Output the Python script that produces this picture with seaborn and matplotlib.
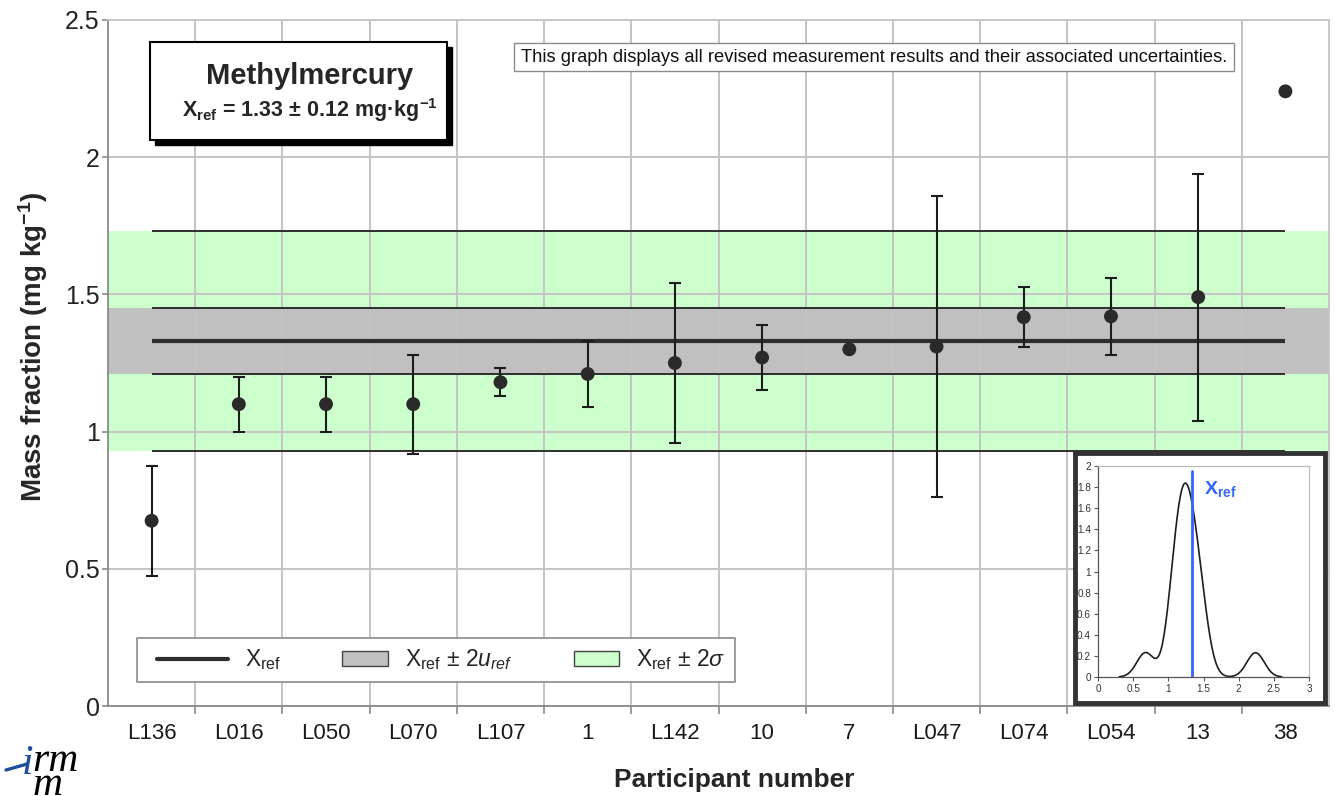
import numpy as np
import pandas as pd
import matplotlib
matplotlib.use("Agg")
import matplotlib.pyplot as plt
import seaborn as sns
from matplotlib.patches import Rectangle, Patch
from matplotlib.lines import Line2D
from matplotlib.legend_handler import HandlerPatch, HandlerBase
from matplotlib.ticker import FormatStrFormatter

# ---- data -------------------------------------------------------------
participants = ["L136", "L016", "L050", "L070", "L107", "1", "L142",
                "10", "7", "L047", "L074", "L054", "13", "38"]
mass_fraction = [0.675, 1.10, 1.10, 1.10, 1.18, 1.21, 1.25,
                 1.27, 1.30, 1.31, 1.417, 1.42, 1.49, 2.24]
uncertainty = [0.20, 0.10, 0.10, 0.18, 0.05, 0.12, 0.29,
               0.12, 0.0, 0.55, 0.11, 0.14, 0.45, 0.0]
x_ref = 1.33
two_u_ref = 0.12
two_sigma = 0.40
y_ticks = [0, 0.5, 1, 1.5, 2, 2.5]
kde_x_ticks = [0, 0.5, 1, 1.5, 2, 2.5, 3]
kde_y_ticks = [0, 0.2, 0.4, 0.6, 0.8, 1, 1.2, 1.4, 1.6, 1.8, 2]

df = pd.DataFrame({"participant": participants,
                   "mass_fraction": mass_fraction,
                   "uncertainty": uncertainty})

# ---- style ------------------------------------------------------------
sns.set_theme(style="white")
plt.rcParams["font.family"] = ["Liberation Sans", "DejaVu Sans"]
plt.rcParams["mathtext.fontset"] = "custom"
plt.rcParams["mathtext.rm"] = "Liberation Sans"
plt.rcParams["mathtext.it"] = "Liberation Sans:italic"
plt.rcParams["mathtext.bf"] = "Liberation Sans:bold"

W, H = 1335, 796
fig = plt.figure(figsize=(W / 100, H / 100), dpi=100)


def fx(px):
    return px / W


def fy(py):
    return 1 - py / H


ax = fig.add_axes([fx(108), fy(706), (1329 - 108) / W, (706 - 20) / H])
n = len(participants)

GRID = "#c4c4c4"
DARK = "#2e2e2e"
GREEN = "#ccffcc"
GREY = "#c0c0c0"

# reference bands
ax.axhspan(x_ref - two_sigma, x_ref + two_sigma, color=GREEN, lw=0, zorder=0.2)
ax.axhspan(x_ref - two_u_ref, x_ref + two_u_ref, color=GREY, lw=0, zorder=0.3)
ax.hlines([x_ref - two_sigma, x_ref - two_u_ref, x_ref + two_u_ref, x_ref + two_sigma],
          0, n - 1, color=DARK, lw=1.4, zorder=2)
ax.hlines(x_ref, 0, n - 1, color=DARK, lw=3, zorder=2.1)

# results with uncertainties
sns.scatterplot(data=df, x="participant", y="mass_fraction", ax=ax,
                color="#2a2a2a", s=100, edgecolor="none", zorder=5, legend=False)
has_err = df["uncertainty"] > 0
ax.errorbar(np.flatnonzero(has_err), df.loc[has_err, "mass_fraction"],
            yerr=df.loc[has_err, "uncertainty"], fmt="none", ecolor="#1c1c1c",
            elinewidth=1.5, capsize=4.5, capthick=1.5, zorder=4)

ax.set_xlim(-0.5, n - 0.5)
ax.set_ylim(0, 2.5)
ax.set_yticks(y_ticks)
ax.set_yticklabels([f"{t:g}" for t in y_ticks])
ax.set_xticks(np.arange(n - 1) + 0.5, minor=True)
ax.set_axisbelow(True)
ax.yaxis.grid(True, color=GRID, lw=1.4)
ax.xaxis.grid(True, which="minor", color=GRID, lw=1.4)
ax.xaxis.grid(False, which="major")
ax.tick_params(axis="x", which="major", length=0, labelsize=16, pad=12,
               labelcolor="#1a1a1a")
ax.tick_params(axis="x", which="minor", length=6, width=1.2, color="#8a8a8a",
               direction="out", bottom=True)
ax.tick_params(axis="y", length=4, width=1.2, color="#8a8a8a", direction="out",
               left=True, labelsize=18, labelcolor="#222222", pad=2)
for side in ["left", "bottom", "right", "top"]:
    ax.spines[side].set_color("#8a8a8a")
    ax.spines[side].set_linewidth(1.3)
ax.spines["top"].set_color(GRID)
ax.spines["right"].set_color(GRID)

ax.set_xlabel("Participant number", fontsize=19, fontweight="bold", va="center")
ax.xaxis.set_label_coords((734 - 108) / 1221, (706 - 780) / 686)
ax.set_ylabel(r"Mass fraction (mg kg$^{\mathbf{-1}}$)", fontsize=20,
              fontweight="bold", va="center")
ax.yaxis.set_label_coords((33 - 108) / 1221, (706 - 347) / 686)


# legend: line sample slightly inset, boxes narrower and right-aligned in the slot
class _InsetLine(HandlerBase):
    def create_artists(self, legend, orig_handle, xdescent, ydescent, width, height,
                       fontsize, trans):
        y = height / 2 - ydescent
        line = Line2D([-xdescent + width * 0.125, -xdescent + width], [y, y],
                      color=orig_handle.get_color(), lw=orig_handle.get_linewidth(),
                      transform=trans)
        return [line]


def _narrow_box(legend, orig_handle, xdescent, ydescent, width, height, fontsize):
    w = width * 0.56
    h = height * 0.8
    return Rectangle((width - w - xdescent, -ydescent + (height - h) / 2), w, h)


handles = [Line2D([], [], color=DARK, lw=3),
           Patch(facecolor=GREY, edgecolor="#444444", lw=1),
           Patch(facecolor=GREEN, edgecolor="#444444", lw=1)]
labels = [r"X$_{\rm ref}$", r"X$_{\rm ref}$ ± 2$u_{ref}$", r"X$_{\rm ref}$ ± 2$\sigma$"]
leg = ax.legend(handles, labels, ncol=3, loc="lower left",
                bbox_to_anchor=((137 - 108) / 1221, (706 - 682) / 686),
                fontsize=16.5, frameon=True, fancybox=False, framealpha=1,
                edgecolor="#8a8a8a", handlelength=3.55, handleheight=0.8,
                handletextpad=0.75, columnspacing=1.1, borderpad=0.42,
                borderaxespad=0,
                handler_map={Line2D: _InsetLine(),
                             Patch: HandlerPatch(patch_func=_narrow_box)})
leg.get_frame().set_linewidth(1.2)
leg.set_zorder(6)

# title box with drop shadow
bx0, by0, bx1, by1 = 150, 42, 447, 140
fig.patches.append(Rectangle((fx(bx0 + 5), fy(by1 + 5)), (bx1 - bx0) / W, (by1 - by0) / H,
                             transform=fig.transFigure, facecolor="black",
                             edgecolor="black", zorder=1))
fig.patches.append(Rectangle((fx(bx0), fy(by1)), (bx1 - bx0) / W, (by1 - by0) / H,
                             transform=fig.transFigure, facecolor="white",
                             edgecolor="black", lw=1.5, zorder=1.1))
fig.text(fx(310), fy(76), "Methylmercury", fontsize=21, fontweight="bold",
         ha="center", va="center", zorder=3)
fig.text(fx(310), fy(110), r"X$_{\mathbf{ref}}$ = 1.33 ± 0.12 mg·kg$^{\mathbf{-1}}$",
         fontsize=15.5, fontweight="bold", ha="center", va="center", zorder=3)

# note box
fig.patches.append(Rectangle((fx(514), fy(71)), (1234 - 514) / W, (71 - 43) / H,
                             transform=fig.transFigure, facecolor="white",
                             edgecolor="#8a8a8a", lw=1, zorder=1))
fig.text(fx(874), fy(57.5),
         "This graph displays all revised measurement results and their associated uncertainties.",
         fontsize=13.2, ha="center", va="center", color="#111111", zorder=3)

# kernel density inset
fig.patches.append(Rectangle((fx(1075), fy(703)), (1325 - 1075) / W, (703 - 453) / H,
                             transform=fig.transFigure, facecolor="white",
                             edgecolor="#333333", lw=3.5, zorder=1.5))
ax_in = fig.add_axes([fx(1098), fy(677), (1309 - 1098) / W, (677 - 466) / H])
ax_in.set_zorder(2)
sns.kdeplot(x=mass_fraction, bw_method=0.367, ax=ax_in, color="#1e1e1e", lw=1.2)
ax_in.plot([x_ref, x_ref], [0, 1.95], color="#3366ff", lw=2)
ax_in.text(1.5, 1.78, r"X$_{\mathbf{ref}}$", color="#3366ff", fontsize=14,
           fontweight="bold", va="center")
ax_in.set_xlim(0, 3)
ax_in.set_ylim(0, 2)
ax_in.set_xticks(kde_x_ticks)
ax_in.set_yticks(kde_y_ticks)
ax_in.xaxis.set_major_formatter(FormatStrFormatter("%g"))
ax_in.yaxis.set_major_formatter(FormatStrFormatter("%g"))
ax_in.set_xlabel("")
ax_in.set_ylabel("")
ax_in.tick_params(labelsize=7.2, length=3, width=0.8, color="#555555",
                  direction="out", left=True, bottom=True, pad=2,
                  labelcolor="#333333")
ax_in.spines["left"].set_color("#555555")
ax_in.spines["bottom"].set_color("#555555")
ax_in.spines["top"].set_color("#bbbbbb")
ax_in.spines["right"].set_color("#bbbbbb")
for s in ax_in.spines.values():
    s.set_linewidth(0.9)

# institute logo: blue "i", then "rm" with a second "m" stacked below
logo_font = dict(family="Liberation Serif", style="italic", fontsize=30)
renderer = fig.canvas.get_renderer()
t_i = fig.text(fx(22), fy(774), "i", color="#1f4e9c", va="baseline", **logo_font)
i_right = t_i.get_window_extent(renderer).x1
fig.text(i_right / W - 0.001, fy(795), "rm\nm", color="black", va="baseline",
         linespacing=0.5, **logo_font)
fig.add_artist(Line2D([fx(6), fx(27)], [fy(770), fy(764)], color="#1f4e9c",
                      lw=2.4, transform=fig.transFigure))

fig.savefig("out.png", dpi=100)
